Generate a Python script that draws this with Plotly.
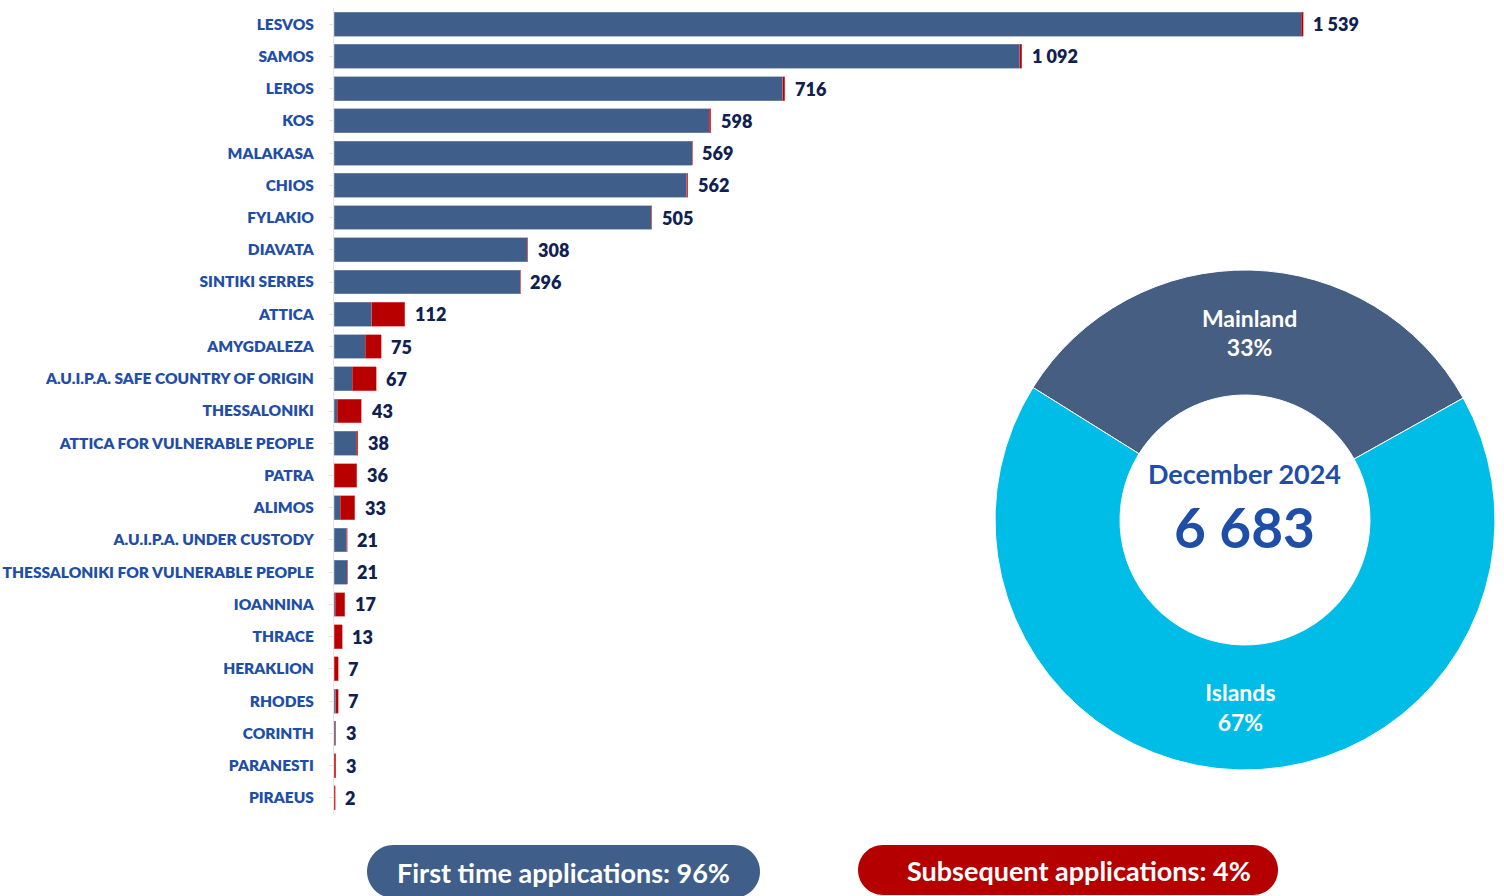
import math
import plotly.graph_objects as go

W, H = 1504, 896

categories = ["LESVOS", "SAMOS", "LEROS", "KOS", "MALAKASA", "CHIOS", "FYLAKIO", "DIAVATA",
              "SINTIKI SERRES", "ATTICA", "AMYGDALEZA", "A.U.I.P.A. SAFE COUNTRY OF ORIGIN",
              "THESSALONIKI", "ATTICA FOR VULNERABLE PEOPLE", "PATRA", "ALIMOS",
              "A.U.I.P.A. UNDER CUSTODY", "THESSALONIKI FOR VULNERABLE PEOPLE", "IOANNINA",
              "THRACE", "HERAKLION", "RHODES", "CORINTH", "PARANESTI", "PIRAEUS"]
first_time = [1536, 1089, 713, 596, 569, 560, 505, 308, 296, 60, 50, 29, 5, 35, 0, 10, 20, 21, 2, 0, 0, 3, 3, 0, 0]
subsequent = [3, 3, 3, 2, 0, 2, 0, 0, 0, 52, 25, 38, 38, 3, 36, 23, 1, 0, 15, 13, 7, 4, 0, 3, 2]
totals = [a + b for a, b in zip(first_time, subsequent)]
total_labels = [f"{t:,}".replace(",", " ") for t in totals]

donut_labels = ["Mainland", "Islands"]
donut_values = [33, 67]
center_month = "December 2024"
center_total = f"{sum(totals):,}".replace(",", " ")
first_share = "First time applications: 96%"
subs_share = "Subsequent applications: 4%"

BLUE = "#3F5F8A"
RED = "#B80000"
CYAN = "#00BDE8"
LABEL_BLUE = "#1F4EA8"
NAVY = "#0E2150"
FONT = "Lato"
HEAVY = 800

fig = go.Figure()
fig.add_trace(go.Bar(y=categories, x=first_time, orientation="h",
                     marker=dict(color=BLUE, line=dict(color="#7F96B8", width=0.6)),
                     name="First time", hoverinfo="x+y"))
fig.add_trace(go.Bar(y=categories, x=subsequent, orientation="h",
                     marker=dict(color=RED, line=dict(color="#E06060", width=0.6)),
                     name="Subsequent", hoverinfo="x+y"))

for cat, tot, lab in zip(categories, totals, total_labels):
    fig.add_annotation(x=tot, y=cat, xref="x", yref="y", text=lab, showarrow=False,
                       xanchor="left", yanchor="middle", xshift=8,
                       font=dict(family=FONT, size=18, color=NAVY, weight=HEAVY))

fig.add_trace(go.Pie(labels=donut_labels, values=donut_values, hole=0.5, sort=False, direction="clockwise",
                     rotation=-58, marker=dict(colors=["#465E82", CYAN], line=dict(color="white", width=1)),
                     texttemplate="%{label}<br>%{value}%", textposition="inside", insidetextorientation="horizontal",
                     textfont=dict(family=FONT, size=23, color="white", weight="bold"),
                     domain=dict(x=[995 / W, 1495 / W], y=[1 - 770 / H, 1 - 270 / H]), showlegend=False,
                     hoverinfo="label+percent"))

x0 = 334
unit_px = 969 / 1539
xmax = 1700
fig.update_layout(
    width=W, height=H, margin=dict(l=0, r=0, t=0, b=0),
    paper_bgcolor="white", plot_bgcolor="white", barmode="stack", bargap=0.26, showlegend=False,
    xaxis=dict(domain=[x0 / W, (x0 + xmax * unit_px) / W], range=[0, xmax], visible=False),
    yaxis=dict(domain=[1 - 814 / H, 1 - 8 / H], autorange="reversed", type="category",
               tickfont=dict(family=FONT, size=15.5, color=LABEL_BLUE, weight=HEAVY),
               showline=True, linecolor="#E4E4E4", linewidth=1, ticks="outside", ticklen=4, tickcolor="#E4E4E4",
               ticklabelstandoff=12, showgrid=False),
    font=dict(family=FONT),
)

fig.add_annotation(x=1244 / W, y=1 - 473 / H, xref="paper", yref="paper", text=center_month, showarrow=False,
                   xanchor="center", yanchor="middle",
                   font=dict(family=FONT, size=27, color=LABEL_BLUE, weight="bold"))
fig.add_annotation(x=1244 / W, y=1 - 527 / H, xref="paper", yref="paper", text=center_total, showarrow=False,
                   xanchor="center", yanchor="middle",
                   font=dict(family=FONT, size=55, color=LABEL_BLUE, weight="bold"))


def pill(xl, xr, yt, yb, color):
    r = (yb - yt) / 2
    cy = (yt + yb) / 2
    pts = []
    for i in range(0, 31):
        a = -math.pi / 2 + math.pi * i / 30
        pts.append((xr - r + r * math.cos(a), cy + r * math.sin(a)))
    for i in range(0, 31):
        a = math.pi / 2 + math.pi * i / 30
        pts.append((xl + r + r * math.cos(a), cy + r * math.sin(a)))
    path = "M " + " L ".join(f"{px / W:.5f},{1 - py / H:.5f}" for px, py in pts) + " Z"
    fig.add_shape(type="path", path=path, xref="paper", yref="paper", fillcolor=color,
                  line=dict(width=0), layer="below")


pill(367, 760, 845, 898, BLUE)
pill(858, 1278, 845, 895, "#B50000")
fig.add_annotation(x=563 / W, y=1 - 872 / H, xref="paper", yref="paper", text=first_share, showarrow=False,
                   xanchor="center", yanchor="middle",
                   font=dict(family=FONT, size=27, color="white", weight="bold"))
fig.add_annotation(x=1079 / W, y=1 - 870 / H, xref="paper", yref="paper", text=subs_share, showarrow=False,
                   xanchor="center", yanchor="middle",
                   font=dict(family=FONT, size=27, color="white", weight="bold"))

fig.write_html("out.html", config={"displayModeBar": False},
               post_script="document.body.style.margin='0';")
